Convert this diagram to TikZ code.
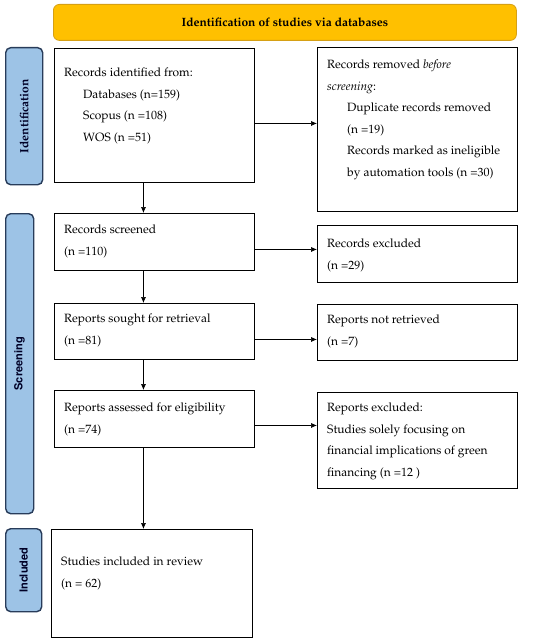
\documentclass[tikz,border=0pt]{standalone}
\usepackage[T1]{fontenc}
\usepackage{mathpazo}
\usepackage[scaled=0.92]{helvet}
\usetikzlibrary{arrows.meta}

\definecolor{bannerfill}{RGB}{255,192,0}
\definecolor{bannerline}{RGB}{214,160,20}
\definecolor{stagefill}{RGB}{157,195,230}
\definecolor{stageline}{RGB}{40,60,90}

\tikzset{
  box/.style={draw, line width=0.9pt, anchor=north west, inner sep=0pt},
  stage/.style={draw=stageline, fill=stagefill, line width=1.4pt, rounded corners=5pt,
                anchor=north west, inner sep=0pt},
  stagetxt/.style={rotate=90, inner sep=0pt, text=black!85!blue},
  txt/.style={anchor=north west, align=left, inner sep=0pt, xshift=10pt, yshift=-13pt,
              font=\fontsize{12}{21.5}\selectfont},
  arr/.style={line width=0.6pt, -{Latex[length=6pt,width=5pt]}},
}

\begin{document}
\begin{tikzpicture}[x=1pt, y=-1pt]
\useasboundingbox (0,0) rectangle (550,642);

% banner
\node[draw=bannerline, fill=bannerfill, line width=0.8pt, rounded corners=6pt,
      anchor=north west, minimum width=463pt, minimum height=36pt] (head) at (53,4)
      {\bfseries\fontsize{12}{14}\selectfont Identification of studies via databases};

% stages
\node[stage, minimum width=37pt, minimum height=137pt,
      label={[stagetxt]center:{\bfseries\fontsize{12}{14}\selectfont Identification}}] (stid) at (5,47) {};
\node[stage, minimum width=28pt, minimum height=300pt,
      label={[stagetxt]center:{\sffamily\bfseries\fontsize{12}{14}\selectfont Screening}}] (stscr) at (5,213) {};
\node[stage, minimum width=36pt, minimum height=83pt,
      label={[stagetxt]center:{\sffamily\bfseries\fontsize{12}{14}\selectfont Included}}] (stinc) at (5,528) {};

% left column
\node[box, minimum width=200pt, minimum height=134pt,
      label={[txt, yshift=-7pt]north west:{Records identified from:\\
        \hspace*{19pt}Databases (n=159)\\
        \hspace*{19pt}Scopus (n =108)\\
        \hspace*{19pt}WOS (n =51)}}] (ident) at (54,48) {};
\node[box, minimum width=200pt, minimum height=57pt,
      label={[txt, yshift=1pt]north west:{Records screened\\(n =110)}}] (screened) at (54,213) {};
\node[box, minimum width=200pt, minimum height=56pt,
      label={[txt, yshift=2pt]north west:{Reports sought for retrieval\\(n =81)}}] (sought) at (54,303) {};
\node[box, minimum width=200pt, minimum height=57pt,
      label={[txt]north west:{Reports assessed for eligibility\\(n =74)}}] (assessed) at (54,390) {};
\node[box, minimum width=201pt, minimum height=108pt,
      label={[txt, yshift=-15pt]north west:{Studies included in review\\(n = 62)}}] (included) at (51,529) {};

% right column
\node[box, minimum width=200pt, minimum height=164pt,
      label={[txt]north west:{Records removed \textit{before}\\
        \textit{screening}:\\
        \hspace*{20pt}Duplicate records removed\\
        \hspace*{20pt}(n =19)\\
        \hspace*{20pt}Records marked as ineligible\\
        \hspace*{20pt}by automation tools (n =30)}}] (removed) at (317,47) {};
\node[box, minimum width=200pt, minimum height=57pt,
      label={[txt, yshift=-1pt]north west:{Records excluded\\(n =29)}}] (excluded) at (317,225) {};
\node[box, minimum width=200pt, minimum height=56pt,
      label={[txt, yshift=2pt]north west:{Reports not retrieved\\(n =7)}}] (notret) at (317,304) {};
\node[box, minimum width=200pt, minimum height=96pt,
      label={[txt, yshift=2pt]north west:{Reports excluded:\\
        Studies solely focusing on\\
        financial implications of green\\
        financing (n =12 )}}] (repexcl) at (317,392) {};

% arrows
\draw[arr] (ident.east) ++(0,8) coordinate (h1) -- (h1 -| removed.west);
\draw[arr] (screened.east) ++(0,7.5) coordinate (h2) -- (h2 -| excluded.west);
\draw[arr] (sought.east) ++(0,8) coordinate (h3) -- (h3 -| notret.west);
\draw[arr] (assessed.east) ++(0,6.5) coordinate (h4) -- (h4 -| repexcl.west);

\draw[arr] (ident.south) ++(-11,0) coordinate (v1) -- (v1 |- screened.north);
\draw[arr] (screened.south) ++(-11,0) coordinate (v2) -- (v2 |- sought.north);
\draw[arr] (sought.south) ++(-11,0) coordinate (v3) -- (v3 |- assessed.north);
\draw[arr] (assessed.south) ++(-11,0) coordinate (v4) -- (v4 |- included.north);
\end{tikzpicture}
\end{document}
